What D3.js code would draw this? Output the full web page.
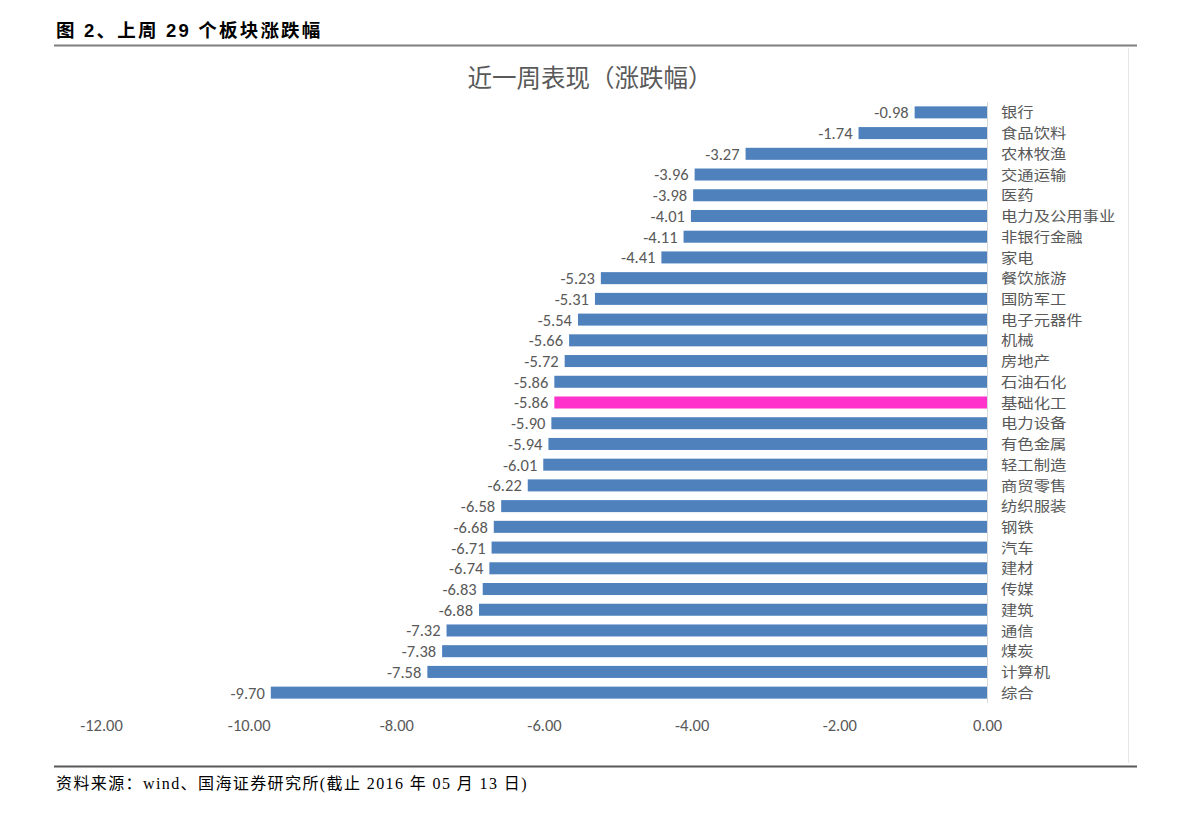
<!DOCTYPE html>
<html><head><meta charset="utf-8">
<script src="https://cdn.jsdelivr.net/npm/d3@7"></script>
<style>
body{margin:0;background:#fff;}
svg{display:block;}
</style></head>
<body>
<svg id="c" width="1191" height="813"></svg>
<script>
const categories = ["银行","食品饮料","农林牧渔","交通运输","医药","电力及公用事业","非银行金融","家电","餐饮旅游","国防军工","电子元器件","机械","房地产","石油石化","基础化工","电力设备","有色金属","轻工制造","商贸零售","纺织服装","钢铁","汽车","建材","传媒","建筑","通信","煤炭","计算机","综合"];
const values = [-0.98,-1.74,-3.27,-3.96,-3.98,-4.01,-4.11,-4.41,-5.23,-5.31,-5.54,-5.66,-5.72,-5.86,-5.86,-5.90,-5.94,-6.01,-6.22,-6.58,-6.68,-6.71,-6.74,-6.83,-6.88,-7.32,-7.38,-7.58,-9.70];
const highlight = ["基础化工"];
const xTicks = [-12,-10,-8,-6,-4,-2,0];
const headerTitle = "图 2、上周 29 个板块涨跌幅";
const chartTitle = "近一周表现（涨跌幅）";
const sourceText = "资料来源：wind、国海证券研究所(截止 2016 年 05 月 13 日)";

const svg = d3.select("#c");
const cjk = "'Noto Sans CJK SC','Microsoft YaHei',sans-serif";
const numFont = "Calibri,Carlito,'Open Sans','Liberation Sans',sans-serif";
const gray = "#595959";

// header
svg.append("text").attr("x",56).attr("y",37).text(headerTitle)
  .attr("font-family","Arial,'Liberation Sans','Noto Sans CJK SC',sans-serif")
  .attr("font-weight","bold").attr("font-size",18.5).attr("letter-spacing",2.2).attr("fill","#000");
svg.append("line").attr("x1",54).attr("x2",1137).attr("y1",45.5).attr("y2",45.5)
  .attr("stroke","#7f7f7f").attr("stroke-width",2);
svg.append("line").attr("x1",54).attr("x2",1137).attr("y1",766.5).attr("y2",766.5)
  .attr("stroke","#595959").attr("stroke-width",2);
// chart border right edge
svg.append("line").attr("x1",1128.5).attr("x2",1128.5).attr("y1",48).attr("y2",763)
  .attr("stroke","#e6e6e6").attr("stroke-width",1);

svg.append("text").attr("x",590).attr("y",87).attr("text-anchor","middle").text(chartTitle)
  .attr("font-family",cjk).attr("font-size",24.5).attr("fill",gray);

const x = d3.scaleLinear().domain([-12,0]).range([101,987]);
const y = d3.scaleBand().domain(categories).range([102,703]).paddingInner(0.42).paddingOuter(0.21);

// bars
svg.append("g").selectAll("rect").data(categories).join("rect")
  .attr("x",(d,i)=>x(values[i])).attr("width",(d,i)=>x(0)-x(values[i]))
  .attr("y",d=>y(d)).attr("height",y.bandwidth())
  .attr("fill",d=>highlight.includes(d)?"#FF33CC":"#4F81BD");

// vertical axis line
svg.append("line").attr("x1",x(0)+0.5).attr("x2",x(0)+0.5).attr("y1",102).attr("y2",703)
  .attr("stroke","#d9d9d9").attr("stroke-width",1);

// value labels
svg.append("g").selectAll("text").data(categories).join("text")
  .attr("x",(d,i)=>x(values[i])-6).attr("y",d=>y(d)+y.bandwidth()/2)
  .attr("dy","0.36em").attr("text-anchor","end")
  .attr("font-family",numFont).attr("font-size",16.5).attr("fill",gray)
  .text((d,i)=>values[i].toFixed(2));

// category labels (slightly widened so glyphs match while line boxes don't collide)
svg.append("g").selectAll("text").data(categories).join("text")
  .attr("transform",d=>`translate(1001,${y(d)+y.bandwidth()/2}) scale(1.15,1)`)
  .attr("dy","0.36em")
  .attr("font-family",cjk).attr("font-size",14.2).attr("fill",gray).text(d=>d);

// x axis
const ax = svg.append("g").attr("transform","translate(0,725)")
  .call(d3.axisBottom(x).tickValues(xTicks).tickFormat(d=>d.toFixed(2)).tickSize(0).tickPadding(0));
ax.select(".domain").remove();
ax.selectAll("text").attr("dy","0.36em").attr("font-family",numFont)
  .attr("font-size",16.5).attr("fill",gray);

// source
svg.append("text").attr("x",56).attr("y",789).text(sourceText)
  .attr("font-family","'Liberation Serif','Noto Sans CJK SC',serif").attr("font-size",16).attr("letter-spacing",1.4).attr("fill","#000");
</script>
</body></html>
